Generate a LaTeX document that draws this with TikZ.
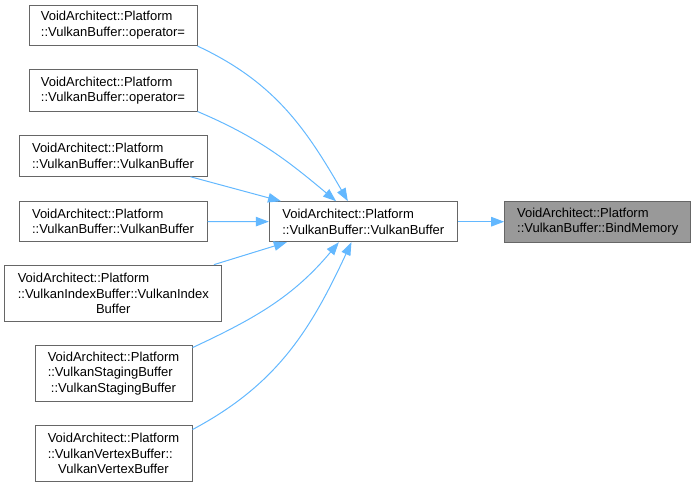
\documentclass[tikz,border=0pt]{standalone}
\usepackage{fontspec}
\setmainfont{Liberation Sans}
\usetikzlibrary{arrows.meta}

\begin{document}
\begin{tikzpicture}[x=1pt, y=1pt]
% Styles
\tikzstyle{box}=[draw={rgb,255: red,102; green,102; blue,102}, fill=white, shape=rectangle, line width=1pt, inner sep=0pt, align=left, font=\fontsize{13}{15.5}\selectfont]
\tikzstyle{grayBox}=[box, fill={rgb,255: red,153; green,153; blue,153}]
\tikzstyle{arrow}=[draw={rgb,255: red,99; green,184; blue,255}, line width=1pt, -{Triangle[length=13pt, width=9.5pt]}]

\useasboundingbox (0, 0) rectangle (696, -487);

\node [style=grayBox, minimum width=186pt, minimum height=40.7pt] (0) at (597.7, -221.7) {VoidArchitect::Platform\\::VulkanBuffer::BindMemory};
\node [style=box, minimum width=188pt, minimum height=40pt] (1) at (363.3, -221.7) {VoidArchitect::Platform\\::VulkanBuffer::VulkanBuffer};
\node [style=box, minimum width=168pt, minimum height=40.5pt] (2) at (113, -25.3) {VoidArchitect::Platform\\::VulkanBuffer::operator=};
\node [style=box, minimum width=168pt, minimum height=41pt] (3) at (113, -90.5) {VoidArchitect::Platform\\::VulkanBuffer::operator=};
\node [style=box, minimum width=188pt, minimum height=40.5pt] (4) at (113, -156) {VoidArchitect::Platform\\::VulkanBuffer::VulkanBuffer};
\node [style=box, minimum width=188pt, minimum height=40.5pt] (5) at (113, -221.5) {VoidArchitect::Platform\\::VulkanBuffer::VulkanBuffer};
\node [style=box, minimum width=216.7pt, minimum height=56.7pt] (6) at (113.3, -293.5) {VoidArchitect::Platform\\::VulkanIndexBuffer::VulkanIndex\\\hfil Buffer};
\node [style=box, minimum width=157pt, minimum height=56pt] (7) at (113.5, -373.3) {VoidArchitect::Platform\\::VulkanStagingBuffer\\\hfil ::VulkanStagingBuffer};
\node [style=box, minimum width=157pt, minimum height=56pt] (8) at (113.5, -453.7) {VoidArchitect::Platform\\::VulkanVertexBuffer::\\\hfil VulkanVertexBuffer};

\draw [style=arrow] (1) to (0);
\draw [style=arrow, out=-25, in=120] (2.south east) to (1.127);
\draw [style=arrow, out=-23, in=140] (3.south east) to (1.143);
\draw [style=arrow] (4.345) to (1.166);
\draw [style=arrow] (5) to (1);
\draw [style=arrow] (6.16) to (1.195);
\draw [style=arrow, out=25, in=-130] (7.18) to (1.220);
\draw [style=arrow, out=28, in=-115] (8.17) to (1.240);
\end{tikzpicture}
\end{document}
